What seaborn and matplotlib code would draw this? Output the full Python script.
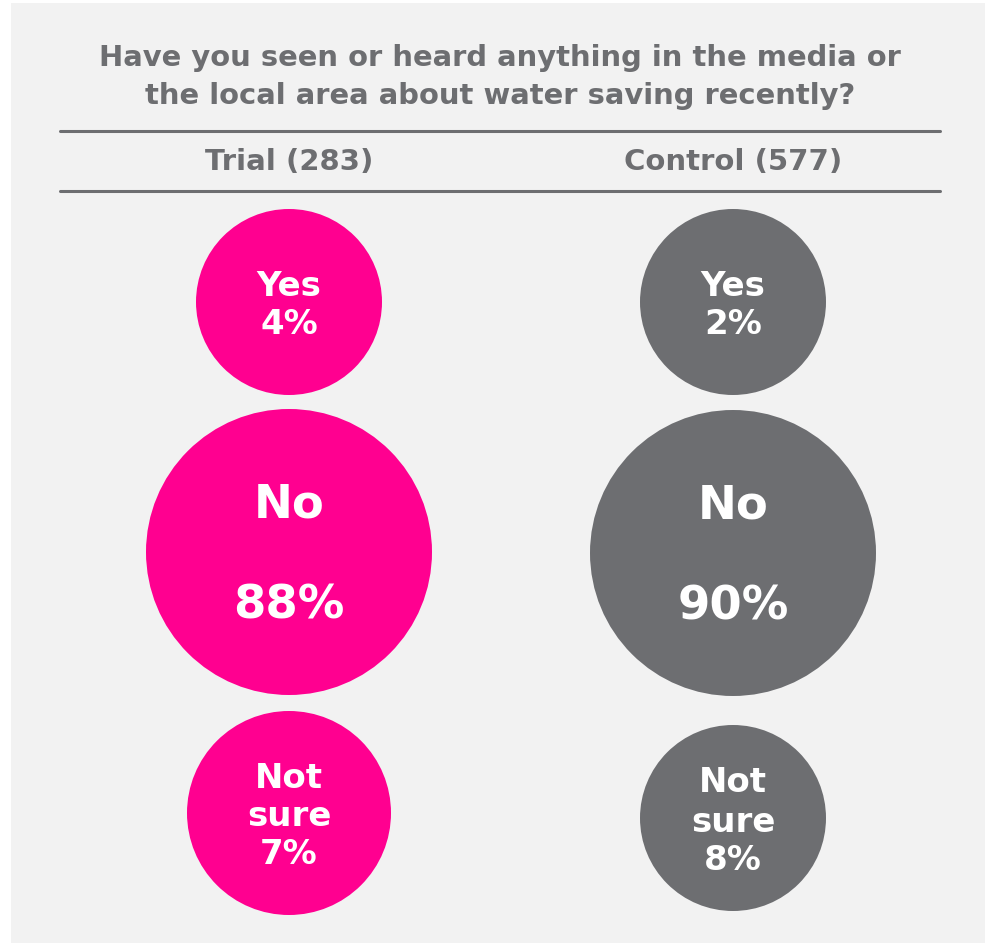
import matplotlib
matplotlib.use("Agg")
import matplotlib.pyplot as plt
import seaborn as sns
import pandas as pd
from matplotlib.patches import Rectangle

# ---- data ----
title = "Have you seen or heard anything in the media or\nthe local area about water saving recently?"
groups = ["Trial (283)", "Control (577)"]
categories = ["Yes", "No", "Not sure"]
trial_pct = [4, 88, 7]
control_pct = [2, 90, 8]

# ---- style / layout (pixel coordinates, y downward) ----
W, H = 985, 943
DPI = 100
group_x = {"Trial (283)": 289, "Control (577)": 733}
cat_y = {("Trial (283)", "Yes"): 302, ("Trial (283)", "No"): 552, ("Trial (283)", "Not sure"): 813,
         ("Control (577)", "Yes"): 302, ("Control (577)", "No"): 553, ("Control (577)", "Not sure"): 818}
radius_px = {("Trial (283)", "Yes"): 93, ("Trial (283)", "No"): 143, ("Trial (283)", "Not sure"): 102,
             ("Control (577)", "Yes"): 93, ("Control (577)", "No"): 143, ("Control (577)", "Not sure"): 93}
palette = {"Trial (283)": "#ff0090", "Control (577)": "#6d6e71"}
text_grey = "#6d6e71"
bg = "#f2f2f2"

rows = []
for g, vals in zip(groups, [trial_pct, control_pct]):
    for c, v in zip(categories, vals):
        rows.append({"group": g, "category": c, "pct": v,
                     "x": group_x[g], "y": cat_y[(g, c)], "key": f"{g}|{c}"})
df = pd.DataFrame(rows)

# marker area in pt^2 from pixel radius
sizes = {f"{g}|{c}": (2 * r * 72 / DPI) ** 2 for (g, c), r in radius_px.items()}

sns.set_theme(style="white")
plt.rcParams["font.family"] = ["DejaVu Sans"]

fig = plt.figure(figsize=(W / DPI, H / DPI), dpi=DPI, facecolor="white")
ax = fig.add_axes([0, 0, 1, 1])
ax.set_xlim(0, W)
ax.set_ylim(H, 0)
ax.axis("off")

ax.add_patch(Rectangle((11, 3), W - 11, H - 3, facecolor=bg, edgecolor="none", zorder=0))

sns.scatterplot(data=df, x="x", y="y", hue="group", palette=palette,
                size="key", sizes=sizes, linewidth=0, legend=False, ax=ax, zorder=2)
ax.set_xlabel("")
ax.set_ylabel("")

# title and headers
ax.text(500, 77, title, ha="center", va="center", fontsize=20.9, fontweight="bold",
        color=text_grey, linespacing=1.42)
ax.plot([60, 940], [131, 131], color=text_grey, lw=2.2, zorder=1)
ax.plot([60, 940], [191, 191], color=text_grey, lw=2.2, zorder=1)
for g in groups:
    ax.text(group_x[g], 162, g, ha="center", va="center", fontsize=21,
            fontweight="bold", color=text_grey)

# circle labels
lab = dict(ha="center", va="center", fontweight="bold", color="white", zorder=3)
for _, r in df.iterrows():
    x, y = r["x"], r["y"]
    if r["category"] == "No":
        ax.text(x, y - 47, "No", fontsize=33.5, **lab)
        ax.text(x, y + 54, f"{r['pct']}%", fontsize=33.5, **lab)
    elif r["category"] == "Yes":
        ax.text(x, y - 16, "Yes", fontsize=24.5, **lab)
        ax.text(x, y + 22, f"{r['pct']}%", fontsize=24.5, **lab)
    else:
        ax.text(x, y - 35, "Not", fontsize=24.5, **lab)
        ax.text(x, y + 4, "sure", fontsize=24.5, **lab)
        ax.text(x, y + 42, f"{r['pct']}%", fontsize=24.5, **lab)

fig.savefig("out.png", dpi=DPI, facecolor="white")
